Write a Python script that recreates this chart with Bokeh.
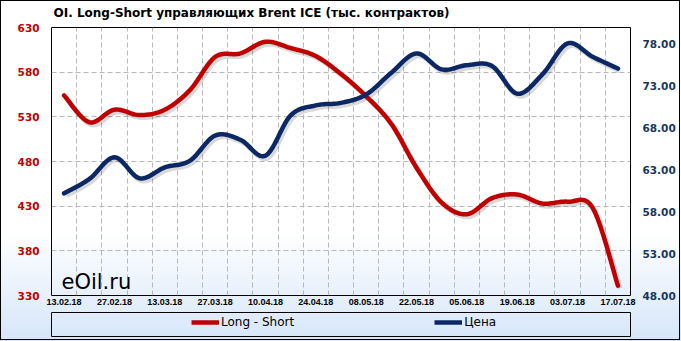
import numpy as np
from bokeh.plotting import figure
from bokeh.layouts import column
from bokeh.models import (Range1d, LinearAxis, FixedTicker, Label, Legend, LegendItem,
                          NumeralTickFormatter, InlineStyleSheet)
from bokeh.embed import file_html
from bokeh.resources import INLINE

# ---------------- data ----------------
dates = ["13.02.18", "20.02.18", "27.02.18", "06.03.18", "13.03.18", "20.03.18",
         "27.03.18", "03.04.18", "10.04.18", "17.04.18", "24.04.18", "01.05.18",
         "08.05.18", "15.05.18", "22.05.18", "29.05.18", "05.06.18", "12.06.18",
         "19.06.18", "26.06.18", "03.07.18", "10.07.18", "17.07.18"]
long_short = [554, 524, 538, 532, 538, 560, 597, 601, 614, 607, 598, 578,
              553, 522, 473, 434, 421, 439, 443, 433, 435, 428, 341]
price = [60.2, 61.9, 64.5, 62.0, 63.3, 64.1, 67.1, 66.6, 64.7, 69.5, 70.7, 71.0,
         72.0, 74.6, 76.9, 75.0, 75.5, 75.4, 72.1, 74.4, 78.1, 76.5, 75.1]
left_ticks = [330, 380, 430, 480, 530, 580, 630]
right_ticks = [48, 53, 58, 63, 68, 73, 78]
title_text = "OI. Long-Short управляющих Brent ICE (тыс. контрактов)"
series_names = ["Long - Short", "Цена"]

RED = "#c00000"
NAVY = "#0b2864"
LINE_W = 4.5


def smooth(vals, n=20):
    """Catmull-Rom style smoothed path through the points (like a smoothed line)."""
    y = np.asarray(vals, float)
    x = np.arange(len(y), dtype=float)
    m = len(y)
    xs, ys = [], []
    for i in range(m - 1):
        p0 = max(i - 1, 0)
        p3 = min(i + 2, m - 1)
        c1x = x[i] + (x[i + 1] - x[p0]) / 6.0
        c1y = y[i] + (y[i + 1] - y[p0]) / 6.0
        c2x = x[i + 1] - (x[p3] - x[i]) / 6.0
        c2y = y[i + 1] - (y[p3] - y[i]) / 6.0
        t = np.linspace(0, 1, n, endpoint=(i == m - 2))
        a = (1 - t) ** 3
        b = 3 * (1 - t) ** 2 * t
        c = 3 * (1 - t) * t ** 2
        d = t ** 3
        xs.extend(a * x[i] + b * c1x + c * c2x + d * x[i + 1])
        ys.extend(a * y[i] + b * c1y + c * c2y + d * y[i + 1])
    return np.array(xs), np.array(ys)


# ---------------- main chart ----------------
p = figure(width=681, height=312, output_backend="svg", toolbar_location=None,
           x_range=Range1d(-0.5, len(dates) - 0.5),
           y_range=Range1d(left_ticks[0], left_ticks[-1]),
           min_border_left=51, min_border_right=51, min_border_top=27,
           min_border_bottom=17)
p.extra_y_ranges = {"price": Range1d(48, 80)}
p.background_fill_alpha = 0
p.border_fill_alpha = 0
p.outline_line_color = "black"
p.outline_line_width = 1

# title
p.title.text = title_text
p.title.align = "left"
p.title.offset = 2
p.title.vertical_align = "top"
p.title.text_font = "DejaVu Sans"
p.title.text_font_style = "bold"
p.title.text_font_size = "12px"
p.title.text_color = "black"
p.title.standoff = 11

# axes
p.xaxis.ticker = FixedTicker(ticks=list(range(0, len(dates), 2)))
p.xaxis.major_label_overrides = {i: dates[i] for i in range(0, len(dates), 2)}
p.xaxis.major_label_text_font = "Liberation Sans"
p.xaxis.major_label_text_font_style = "bold"
p.xaxis.major_label_text_font_size = "9px"
p.xaxis.major_label_text_color = "black"
p.xaxis.major_label_standoff = 3

p.yaxis.ticker = FixedTicker(ticks=left_ticks)
p.yaxis.major_label_text_font = "DejaVu Sans"
p.yaxis.major_label_text_font_style = "bold"
p.yaxis.major_label_text_font_size = "10.5px"
p.yaxis.major_label_text_color = RED
p.yaxis.major_label_standoff = 12

rax = LinearAxis(y_range_name="price", ticker=FixedTicker(ticks=right_ticks),
                 formatter=NumeralTickFormatter(format="0.00"))
rax.major_label_text_font = "DejaVu Sans"
rax.major_label_text_font_style = "bold"
rax.major_label_text_font_size = "10.5px"
rax.major_label_text_color = "#17375e"
rax.major_label_standoff = 12
p.add_layout(rax, "right")

for ax in [p.xaxis[0], p.yaxis[0], rax]:
    ax.axis_line_color = None
    ax.major_tick_line_color = None
    ax.minor_tick_line_color = None
    ax.major_tick_out = 0
    ax.major_tick_in = 0

# grid
p.xgrid.ticker = FixedTicker(ticks=[i + 0.5 for i in range(len(dates) - 1)])
p.ygrid.ticker = FixedTicker(ticks=left_ticks[1:-1])
for g in [p.xgrid[0], p.ygrid[0]]:
    g.grid_line_color = "#b8b8b8"
    g.grid_line_dash = "5 3"
    g.grid_line_width = 1

# series (with a soft drop shadow)
xr, yr = smooth(long_short)
xb, yb = smooth(price)
p.line(xr + 0.08, yr - 2.8, line_color="black", line_alpha=0.15, line_width=5)
p.line(xb + 0.08, yb - 0.3, line_color="black", line_alpha=0.15, line_width=5,
       y_range_name="price")
p.line(xr, yr, line_color=RED, line_width=LINE_W, line_cap="round", line_join="round")
p.line(xb, yb, line_color=NAVY, line_width=LINE_W, line_cap="round", line_join="round",
       y_range_name="price")

# watermark
p.add_layout(Label(x=10, y=14, x_units="screen", y_units="screen", text="eOil.ru",
                   text_font="DejaVu Sans", text_font_size="21px", text_color="black",
                   text_baseline="alphabetic"))

# ---------------- legend strip ----------------
q = figure(width=681, height=29, output_backend="svg", toolbar_location=None,
           title=None, x_range=Range1d(0, 1), y_range=Range1d(0, 1),
           x_axis_location=None, y_axis_location=None,
           min_border_left=50, min_border_right=50, min_border_top=0,
           min_border_bottom=5)
q.grid.visible = False
q.background_fill_alpha = 0
q.border_fill_alpha = 0
q.outline_line_color = "black"
q.outline_line_width = 1
# legend proxies: one undefined (NaN) point each, so nothing is drawn in the strip
leg_red = q.line(x=[float("nan")], y=[float("nan")], line_color=RED, line_width=LINE_W)
leg_blue = q.line(x=[float("nan")], y=[float("nan")], line_color=NAVY, line_width=LINE_W)
legend = Legend(items=[LegendItem(label=series_names[0], renderers=[leg_red]),
                       LegendItem(label=series_names[1], renderers=[leg_blue])],
                location=(140, 6), orientation="horizontal", spacing=140,
                padding=0, margin=0, glyph_width=28, glyph_height=16,
                label_height=16, label_standoff=2, label_text_font="DejaVu Sans",
                label_text_font_size="12px", label_text_color="black",
                border_line_color=None, background_fill_alpha=0)
q.add_layout(legend)

layout = column(p, q, spacing=0)

# chart-area background gradient and outer border
css = """
:host {
  position: relative;
  background: linear-gradient(to bottom, #ffffff 0px, #ffffff 232px, #d6e6f9 341px);
}
:host::before {
  content: ""; position: absolute; left: 0px; top: 0px; width: 680px; height: 340px;
  border: 1px solid black; box-sizing: border-box; pointer-events: none; z-index: 10;
}
"""
layout.stylesheets = [InlineStyleSheet(css=css)]

open("out.html", "w").write(file_html(layout, INLINE))
